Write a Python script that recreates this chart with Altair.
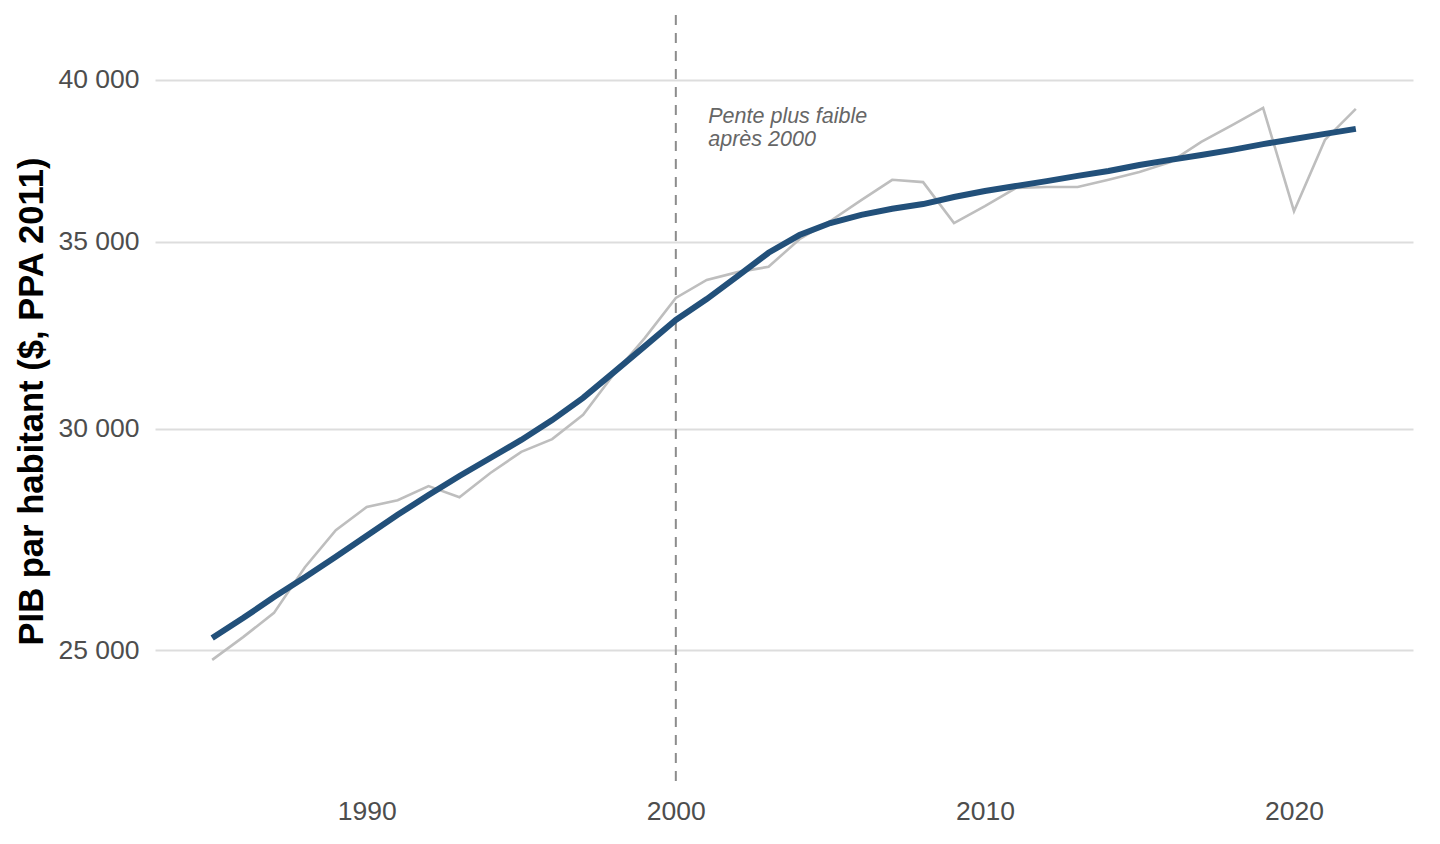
import pandas as pd
import altair as alt

years = list(range(1985, 2023))

# PIB par habitant observé ($, PPA 2011)
pib = [24800, 25270, 25780, 26770, 27600, 28130, 28290, 28620, 28360, 28930,
       29440, 29750, 30350, 31390, 32340, 33420, 33920, 34140, 34290, 35080,
       35610, 36230, 36840, 36770, 35550, 36050, 36590, 36620, 36620, 36840,
       37080, 37380, 38010, 38540, 39090, 35900, 38070, 39060]

# tendance lissée
tendance = [25250, 25670, 26120, 26550, 27000, 27470, 27950, 28410, 28860, 29290,
            29730, 30220, 30780, 31440, 32120, 32820, 33390, 34030, 34690, 35200,
            35550, 35790, 35970, 36110, 36320, 36500, 36650, 36800, 36960, 37110,
            37290, 37450, 37600, 37760, 37940, 38100, 38260, 38420]

y_ticks = [25000, 30000, 35000, 40000]
x_ticks = [1990, 2000, 2010, 2020]

df = pd.DataFrame({"annee": years, "pib": pib, "tendance": tendance})

FONT = "Liberation Sans"

x = alt.X("annee:Q",
          scale=alt.Scale(domain=[1983.15, 2023.85], nice=False, zero=False),
          axis=alt.Axis(title=None, values=x_ticks, format="d", grid=False,
                        domain=False, ticks=False, labelFontSize=26.5,
                        labelColor="#4d4d4d", labelPadding=13, labelFont=FONT))

y_scale = alt.Scale(type="log", domain=[22370, 42200], nice=False)

base = alt.Chart(df)

obs = base.mark_line(color="#bebebe", strokeWidth=2.6).encode(
    x=x,
    y=alt.Y("pib:Q", scale=y_scale,
            axis=alt.Axis(values=y_ticks, labelExpr="replace(format(datum.value, ',d'), ',', ' ')",
                          title="PIB par habitant ($, PPA 2011)", titleFontSize=34.6,
                          titleFont=FONT, titleFontWeight="bold", titleColor="black",
                          titleX=-106, titleY=386, titleAngle=270,
                          grid=True, gridColor="#dddddd", gridWidth=2,
                          domain=False, ticks=False, labelFontSize=26.5,
                          labelColor="#4d4d4d", labelPadding=16, labelFont=FONT)),
)

trend = base.mark_line(color="#22507a", strokeWidth=6, strokeCap="butt").encode(
    x=x, y=alt.Y("tendance:Q", scale=y_scale)
)

vline = alt.Chart(pd.DataFrame({"annee": [2000]})).mark_rule(
    color="#8c8c8c", strokeWidth=2, strokeDash=[10, 8]
).encode(x="annee:Q")

note = alt.Chart(pd.DataFrame({"annee": [2001.05], "v": [38600]})).mark_text(
    text=["Pente plus faible", "après 2000"], align="left", baseline="alphabetic",
    fontSize=21.5, fontStyle="italic", font=FONT, color="#666666", lineHeight=23
).encode(x="annee:Q", y=alt.Y("v:Q", scale=y_scale))

chart = (obs + vline + trend + note).properties(
    width=1258, height=770,
    autosize=alt.AutoSizeParams(type="none"),
    padding={"left": 147, "top": 7, "right": 10, "bottom": 40},
).configure_view(stroke=None)

chart.save("out.html", embed_options={"renderer": "svg", "actions": False})
